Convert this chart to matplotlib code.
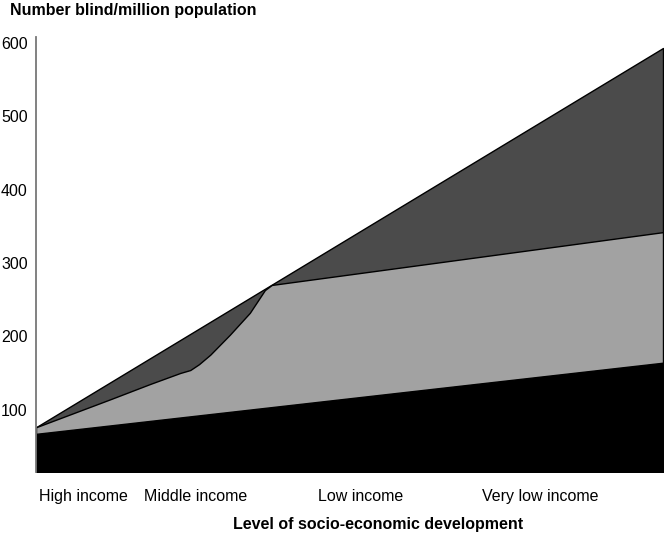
import matplotlib
matplotlib.use("Agg")
import matplotlib.pyplot as plt

plt.rcParams['font.family'] = ['Liberation Sans', 'DejaVu Sans']

# x runs from 0 (high income end) to 100 (very low income end)
top_x = [0, 100]
top_y = [76, 593]

gray_x = [0, 11.8, 18.2, 23.0, 24.6, 26.0, 27.8, 30.9, 34.1, 36.5, 37.6, 100]
gray_y = [76, 114, 135, 150, 154, 162, 175, 202, 232, 263, 270, 342]

black_x = [0, 100]
black_y = [67, 164]

base = 15
categories = ["High income", "Middle income", "Low income", "Very low income"]
cat_pos = [7.5, 25.5, 51.8, 80.4]
yticks = [100, 200, 300, 400, 500, 600]

fig = plt.figure(figsize=(6.65, 5.36), dpi=100)
ax = fig.add_axes([36/665, 64/536, 627/665, 435/536])

ax.fill_between(top_x, base, top_y, facecolor='#4b4b4b', edgecolor='black', linewidth=1.0)
ax.fill_between(gray_x, base, gray_y, facecolor='#a2a2a2', edgecolor='black', linewidth=1.0)
ax.fill_between(black_x, base, black_y, facecolor='black', edgecolor='black', linewidth=1.0)

ax.set_xlim(0, 100)
ax.set_ylim(base, 608)

for s in ['top', 'right', 'bottom']:
    ax.spines[s].set_visible(False)
ax.spines['left'].set_color('#777777')
ax.spines['left'].set_linewidth(1.3)
ax.spines['left'].set_zorder(5)

ax.set_yticks(yticks)
ax.set_yticklabels([str(v) for v in yticks], fontsize=11.5)
ax.set_xticks(cat_pos)
ax.set_xticklabels(categories, fontsize=11.5)
ax.tick_params(axis='y', length=0, pad=6)
ax.tick_params(axis='x', length=0, pad=12)

ax.set_xlabel("Level of socio-economic development", fontsize=11.5, fontweight='bold',
              va='center')
ax.xaxis.set_label_coords((378 - 36) / 627, -(524 - 472) / 435)
fig.text(10/665, 1 - 10/536, "Number blind/million population", fontsize=11.5,
         fontweight='bold', ha='left', va='center')

fig.savefig("out.png", dpi=100)
